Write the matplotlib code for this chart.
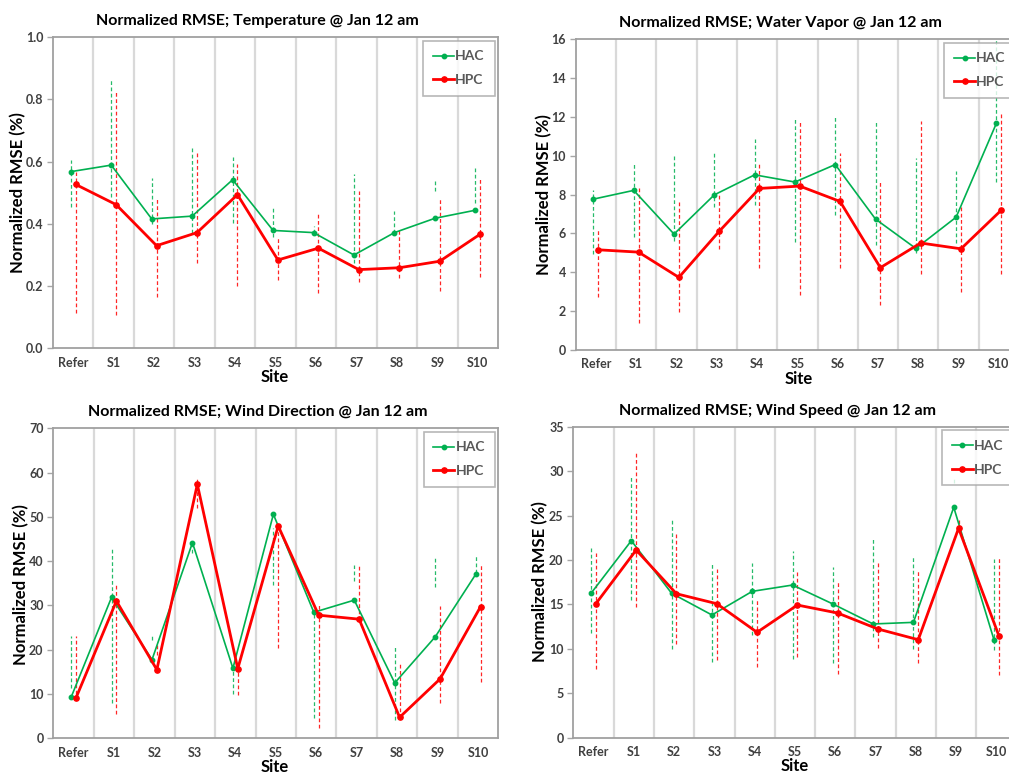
import numpy as np
import matplotlib
matplotlib.use('Agg')
import matplotlib.pyplot as plt

plt.rcParams['font.family'] = ['Lato', 'DejaVu Sans']
plt.rcParams['font.weight'] = 'bold'

sites = ['Refer', 'S1', 'S2', 'S3', 'S4', 'S5', 'S6', 'S7', 'S8', 'S9', 'S10']

# Temperature
temp_hac = [0.568, 0.589, 0.416, 0.425, 0.542, 0.379, 0.372, 0.300, 0.372, 0.418, 0.444]
temp_hpc = [0.527, 0.462, 0.330, 0.372, 0.494, 0.284, 0.322, 0.253, 0.259, 0.280, 0.367]
temp_hac_lo = [0.455, 0.487, 0.400, 0.370, 0.402, 0.359, 0.370, 0.273, 0.370, 0.507, 0.466]
temp_hac_hi = [0.605, 0.865, 0.549, 0.650, 0.616, 0.450, 0.393, 0.560, 0.441, 0.539, 0.581]
temp_hpc_lo = [0.112, 0.107, 0.166, 0.273, 0.200, 0.220, 0.179, 0.212, 0.227, 0.185, 0.230]
temp_hpc_hi = [0.568, 0.825, 0.487, 0.629, 0.593, 0.354, 0.436, 0.507, 0.380, 0.480, 0.547]

# Water vapor
wv_hac = [7.77, 8.22, 5.97, 7.99, 9.02, 8.65, 9.55, 6.74, 5.23, 6.84, 11.68]
wv_hpc = [5.16, 5.04, 3.74, 6.11, 8.32, 8.44, 7.65, 4.24, 5.51, 5.21, 7.20]
wv_hac_lo = [4.94, 5.83, 5.62, 7.37, 7.46, 5.57, 6.95, 5.40, 4.97, 5.49, 8.66]
wv_hac_hi = [8.23, 9.61, 10.02, 10.15, 10.87, 11.92, 12.04, 11.75, 9.89, 9.23, 16.0]
wv_hpc_lo = [2.74, 1.37, 1.97, 5.20, 4.24, 2.83, 4.24, 2.32, 3.89, 3.00, 3.89]
wv_hpc_hi = [6.17, 8.44, 7.60, 8.06, 9.61, 11.80, 10.15, 8.66, 11.80, 7.37, 12.18]

# Wind direction
wd_hac = [9.26, 31.84, 17.75, 44.17, 15.81, 50.58, 28.45, 31.2, 12.5, 22.9, 37.0]
wd_hpc = [9.10, 31.00, 15.49, 57.35, 15.72, 47.94, 27.8, 26.9, 4.74, 13.4, 29.7]
wd_hac_lo = [11.3, 8.0, 22.2, 41.9, 10.0, 34.6, 4.5, 35.6, 4.1, 34.2, 37.3]
wd_hac_hi = [23.2, 42.9, 23.3, 44.2, 15.4, 47.5, 28.4, 39.1, 20.7, 40.8, 41.4]
wd_hpc_lo = [10.0, 5.6, 18.9, 51.9, 9.8, 20.4, 2.3, 26.7, 4.5, 7.9, 12.8]
wd_hpc_hi = [23.1, 34.6, 21.5, 58.5, 15.4, 48.0, 30.1, 38.9, 17.3, 29.9, 39.3]

# Wind speed
ws_hac = [16.25, 22.17, 16.25, 13.81, 16.47, 17.18, 15.05, 12.8, 12.98, 25.93, 11.0]
ws_hpc = [15.08, 21.12, 16.2, 15.08, 11.86, 14.93, 14.03, 12.23, 11.03, 23.57, 11.48]
ws_hac_lo = [11.75, 15.50, 9.95, 8.55, 11.56, 8.82, 8.37, 11.37, 9.95, 28.7, 9.87]
ws_hac_hi = [21.31, 29.37, 24.5, 19.55, 19.7, 21.0, 19.24, 22.44, 20.37, 29.1, 20.08]
ws_hpc_lo = [7.70, 14.74, 10.54, 8.74, 7.99, 9.12, 7.17, 10.13, 8.37, 23.4, 7.06]
ws_hpc_hi = [20.82, 32.0, 23.0, 18.99, 15.5, 18.76, 17.49, 19.8, 18.76, 24.5, 20.3]

GREEN = '#00b050'
RED = '#ff0000'
W, H = 1009, 774


def px_rect(left, top, width, height):
    # pixel box (from top-left) -> figure fraction
    return [left / W, (H - top - height) / H, width / W, height / H]


def draw_panel(fig, rect, title, title_xy, ylabel_xy, site_xy,
               hac, hpc, hac_lo, hac_hi, hpc_lo, hpc_hi, ymax, ystep, yfmt):
    ax = fig.add_axes(px_rect(*rect))
    x = np.arange(len(sites))
    off = 0.06

    # vertical separators between categories
    for b in np.arange(0.5, len(sites) - 1, 1.0):
        ax.axvline(b, color='#d9d9d9', lw=1.6, zorder=0)

    # dashed range bars
    ax.vlines(x - off, hac_lo, hac_hi, colors=GREEN, linestyles=(0, (3, 2)),
              lw=0.9, alpha=0.85, zorder=1)
    ax.vlines(x + off, hpc_lo, hpc_hi, colors=RED, linestyles=(0, (3, 2)),
              lw=0.9, alpha=0.85, zorder=1)

    ax.plot(x - off, hac, color=GREEN, lw=1.2, marker='o', ms=3.2,
            label='HAC', zorder=3)
    ax.plot(x + off, hpc, color=RED, lw=2.0, marker='o', ms=3.8,
            label='HPC', zorder=4)

    ax.set_xlim(-0.5, len(sites) - 0.5)
    ax.set_ylim(0, ymax)
    ticks = np.arange(0, ymax + ystep / 2, ystep)
    ax.set_yticks(ticks)
    ax.set_yticklabels([yfmt % v for v in ticks])
    ax.set_xticks(x)
    ax.set_xticklabels(sites)
    ax.tick_params(axis='x', length=0, pad=6, labelsize=9, labelcolor='#404040')
    ax.tick_params(axis='y', length=4, width=1, color='#a6a6a6', pad=3,
                   labelsize=9, labelcolor='#404040')
    for s in ax.spines.values():
        s.set_color('#a0a0a0')
        s.set_linewidth(1.3)

    leg = ax.legend(loc='upper right', fontsize=10, frameon=True, fancybox=False,
                    handlelength=1.5, handletextpad=0.1, borderpad=0.7,
                    labelspacing=0.85, borderaxespad=0.25)
    leg.get_frame().set_edgecolor('#a6a6a6')
    leg.get_frame().set_linewidth(1.2)
    for t in leg.get_texts():
        t.set_color('#595959')

    fig.text(title_xy[0] / W, 1 - title_xy[1] / H, title, ha='center', va='center',
             fontsize=11.5, fontweight='bold', color='black')
    fig.text(ylabel_xy[0] / W, 1 - ylabel_xy[1] / H, 'Normalized RMSE (%)',
             ha='center', va='center', rotation=90, fontsize=12, fontweight='bold')
    fig.text(site_xy[0] / W, 1 - site_xy[1] / H, 'Site', ha='center', va='center',
             fontsize=12, fontweight='bold')
    return ax


fig = plt.figure(figsize=(W / 100, H / 100), dpi=100)

draw_panel(fig, (53, 37.3, 445, 311), 'Normalized RMSE; Temperature @ Jan 12 am',
           (257.5, 21), (18.3, 192.5), (275, 377.5),
           temp_hac, temp_hpc, temp_hac_lo, temp_hac_hi, temp_hpc_lo, temp_hpc_hi,
           1.0, 0.2, '%.1f')
draw_panel(fig, (575.7, 39.3, 443.3, 310.7), 'Normalized RMSE; Water Vapor @ Jan 12 am',
           (780.8, 23), (544.3, 195), (798.3, 379.5),
           wv_hac, wv_hpc, wv_hac_lo, wv_hac_hi, wv_hpc_lo, wv_hpc_hi,
           16, 2, '%d')
draw_panel(fig, (53.3, 428.3, 445, 310), 'Normalized RMSE; Wind Direction @ Jan 12 am',
           (257.7, 411.7), (20.7, 584.2), (275, 767),
           wd_hac, wd_hpc, wd_hac_lo, wd_hac_hi, wd_hpc_lo, wd_hpc_hi,
           70, 10, '%d')
draw_panel(fig, (573.3, 426.7, 443.3, 311), 'Normalized RMSE; Wind Speed @ Jan 12 am',
           (777.2, 410.7), (540, 581.7), (795, 766),
           ws_hac, ws_hpc, ws_hac_lo, ws_hac_hi, ws_hpc_lo, ws_hpc_hi,
           35, 5, '%d')

fig.savefig('out.png', dpi=100)
